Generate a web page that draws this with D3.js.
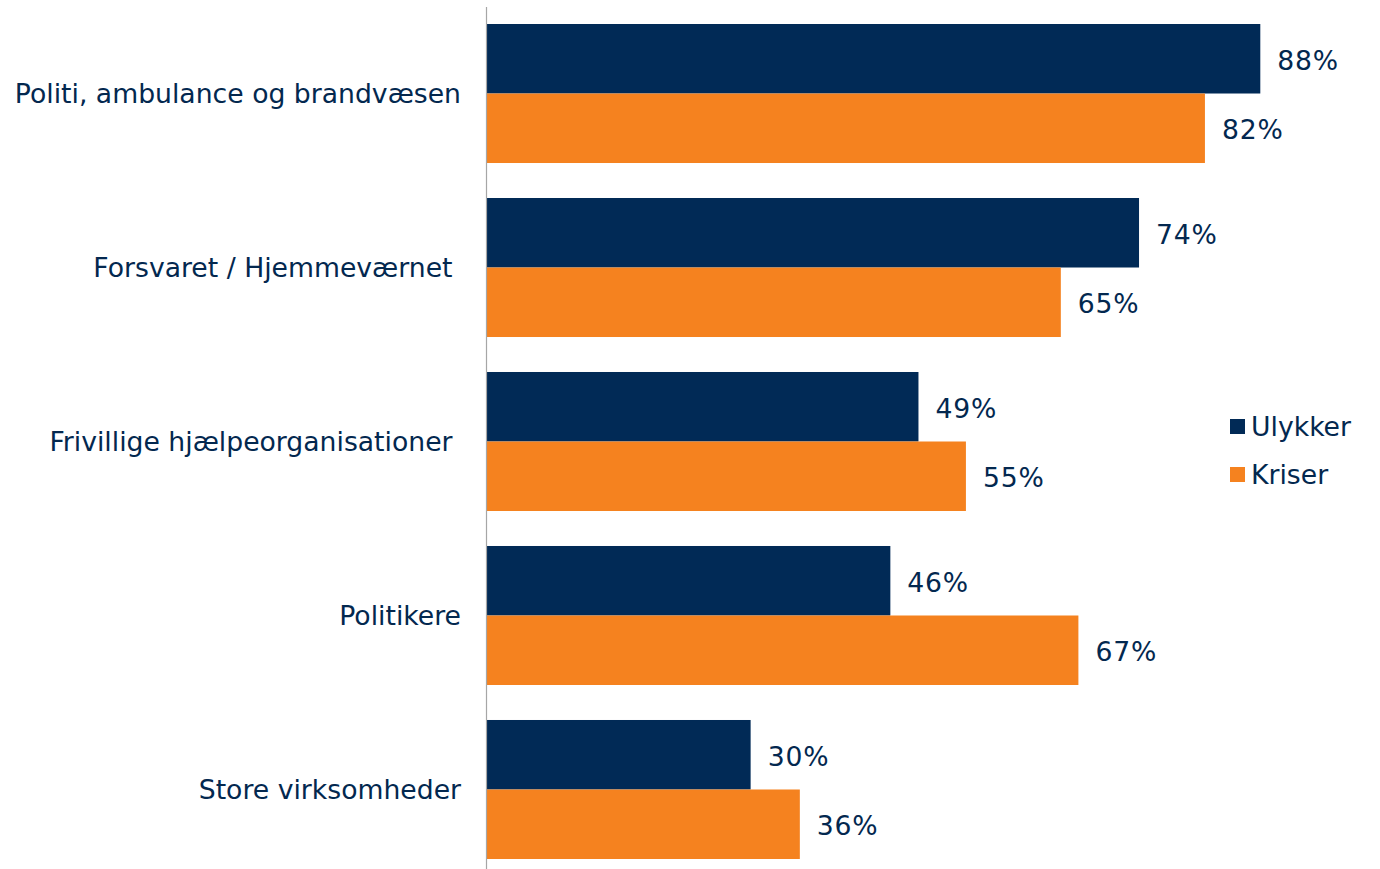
<!DOCTYPE html>
<html><head><meta charset="utf-8">
<script src="https://cdn.jsdelivr.net/npm/d3@7"></script>
<style>
html,body{margin:0;padding:0;background:#fff;}
svg{display:block;}
text{font-family:"DejaVu Sans",Verdana,sans-serif;fill:#03284F;white-space:pre;}
</style></head>
<body>
<svg id="c" width="1380" height="869"></svg>
<script>
const categories = ["Politi, ambulance og brandvæsen","Forsvaret / Hjemmeværnet ","Frivillige hjælpeorganisationer ","Politikere","Store virksomheder"];
const seriesNames = ["Ulykker","Kriser"];
const ulykker = [88.0,74.2,49.1,45.9,30.0];
const kriser = [81.7,65.3,54.5,67.3,35.6];
const colors = ["#012A56","#F5821F"];

const svg = d3.select("#c");
const x = d3.scaleLinear().domain([0,100]).range([487, 1365.75]);
const y = d3.scaleBand().domain(categories).range([6.5, 876.5]).paddingInner(0.2011).paddingOuter(0.1006);
const ys = d3.scaleBand().domain(seriesNames).range([0, y.bandwidth()]);
const seriesVals = [ulykker, kriser];
const FS = 26.67;

const g = svg.append("g");
categories.forEach((c,i)=>{
  seriesNames.forEach((s,j)=>{
    const v = seriesVals[j][i];
    g.append("rect").attr("x", x(0)).attr("y", y(c)+ys(s))
      .attr("width", x(v)-x(0)).attr("height", ys.bandwidth()).attr("fill", colors[j]);
    g.append("text").attr("x", x(v)+17).attr("y", y(c)+ys(s)+ys.bandwidth()/2+1.5)
      .attr("dy","0.356em").attr("font-size",FS).attr("letter-spacing",0.8).text(Math.round(v)+"%");
  });
  svg.append("text").attr("x",461).attr("y", y(c)+y.bandwidth()/2)
    .attr("dy","0.356em").attr("text-anchor","end").attr("font-size",FS).text(c);
});

// axis line
svg.append("line").attr("x1",486.5).attr("x2",486.5).attr("y1",7).attr("y2",869)
  .attr("stroke","#A6A6A6").attr("stroke-width",1.2);

// legend
const lg = svg.append("g");
seriesNames.forEach((s,j)=>{
  lg.append("rect").attr("x",1230).attr("y",419+48*j).attr("width",15).attr("height",15).attr("fill",colors[j]);
  lg.append("text").attr("x",1251).attr("y",427+48*j).attr("dy","0.356em").attr("font-size",FS).text(s);
});
</script>
</body></html>
